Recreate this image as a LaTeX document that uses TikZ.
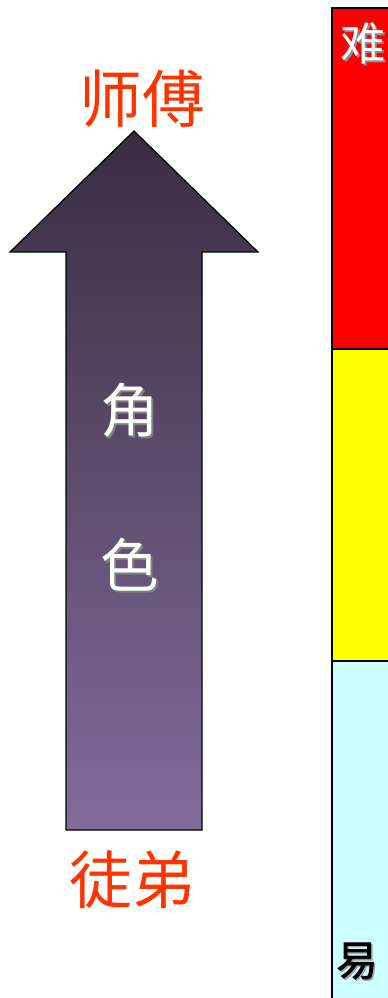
\documentclass[tikz,border=0pt]{standalone}
\usepackage{fontspec}
\newfontfamily\cjk{Noto Sans CJK SC}
\newfontfamily\cjkb{Noto Sans CJK SC}[FakeBold=2]
\definecolor{lbl}{HTML}{FF3300}
\definecolor{atop}{HTML}{3A2D40}
\definecolor{abot}{HTML}{826C9C}
\definecolor{cyanl}{HTML}{CCFFFF}
\definecolor{yel}{HTML}{FFFF00}
\tikzset{
  redlbl/.style={text=lbl,font=\cjk\fontsize{47}{47}\selectfont,inner sep=0pt},
  whitelbl/.style={text=white,font=\cjk\fontsize{44}{44}\selectfont,inner sep=0pt},
  shadowlbl/.style={text=black!50,font=\cjk\fontsize{44}{44}\selectfont,inner sep=0pt},
}
\begin{document}
\begin{tikzpicture}[x=0.75pt,y=-0.75pt]
\useasboundingbox (0,0) rectangle (388,998);
% right bar
\fill[red] (332,8) rectangle (388,349);
\fill[yel] (332,349) rectangle (388,661);
\fill[cyanl] (332,661) rectangle (388,998);
\draw[line width=1.2pt] (332,998) -- (332,8) -- (388,8);
\draw[line width=1.2pt] (332,349) -- (388,349);
\draw[line width=1.2pt] (332,661) -- (388,661);
% arrow
\shade[top color=atop,bottom color=abot] (134,131) -- (258,252) -- (202,252) -- (202,830) -- (66,830) -- (66,252) -- (10,252) -- cycle;
\draw[line width=0.9pt] (134,131) -- (258,252) -- (202,252) -- (202,830) -- (66,830) -- (66,252) -- (10,252) -- cycle;
% labels
\node[redlbl] (top) at (142,99) {师傅};
\node[redlbl] (bot) at (132,880) {徒弟};
\node[shadowlbl] (jiaos) at (132,412) {角};
\node[whitelbl] (jiao) at (130,410) {角};
\node[shadowlbl] (ses) at (132,567) {色};
\node[whitelbl] (se) at (130,565) {色};
\node[text=black!45,font=\cjk\fontsize{34}{34}\selectfont,inner sep=0pt] (nans) at (365,45) {难};
\node[text=white,font=\cjk\fontsize{34}{34}\selectfont,inner sep=0pt] (nan) at (363,43) {难};
\node[text=black!35,font=\cjkb\fontsize{31}{31}\selectfont,inner sep=0pt] (yis) at (358.5,962.5) {易};
\node[text=black,font=\cjkb\fontsize{31}{31}\selectfont,inner sep=0pt] (yi) at (357,961) {易};
\end{tikzpicture}
\end{document}
